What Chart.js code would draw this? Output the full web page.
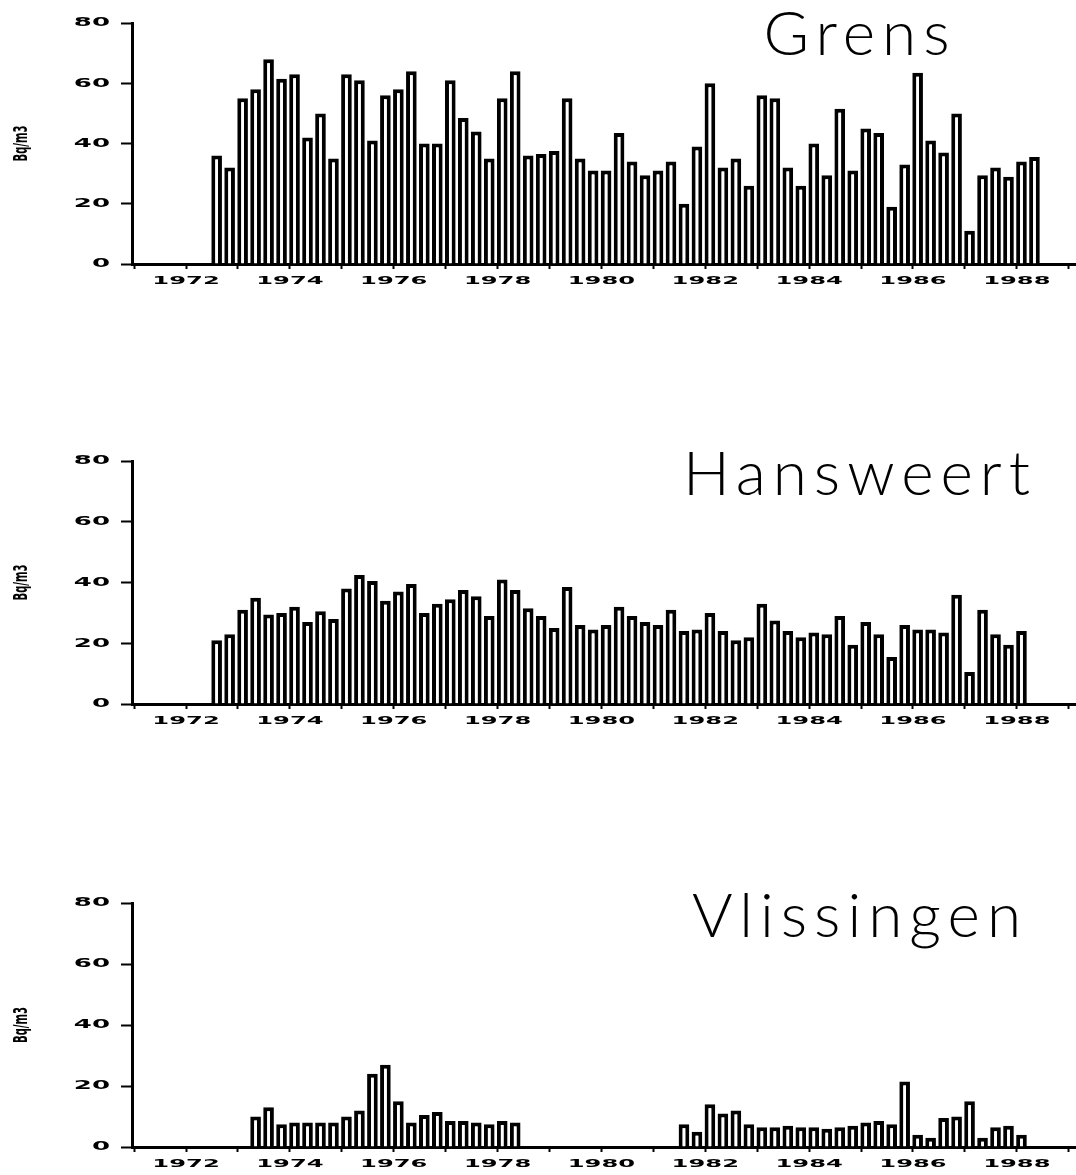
<!DOCTYPE html>
<html>
<head>
<meta charset="utf-8">
<script src="https://cdn.jsdelivr.net/npm/chart.js@4/dist/chart.umd.min.js"></script>
<style>
  html, body { margin: 0; padding: 0; background: #fff; }
  body { width: 1076px; height: 1175px; overflow: hidden; position: relative; }
  .panel { position: absolute; left: 0; width: 1076px; height: 300px; }
</style>
</head>
<body>
<div class="panel" id="p1" style="top:0px"><canvas id="c1" width="1076" height="300"></canvas></div>
<div class="panel" id="p2" style="top:440px"><canvas id="c2" width="1076" height="300"></canvas></div>
<div class="panel" id="p3" style="top:883px"><canvas id="c3" width="1076" height="300"></canvas></div>
<script>
// ---------------- data ----------------
const seriesYears = [1973, 1974, 1975, 1976, 1977, 1978, 1979, 1980,
                     1981, 1982, 1983, 1984, 1985, 1986, 1987, 1988];
const quarterNames = ['Q1', 'Q2', 'Q3', 'Q4'];
const quarters = [];
for (const y of seriesYears) for (const q of quarterNames) quarters.push(y + ' ' + q);

const tickYears = [1972, 1973, 1974, 1975, 1976, 1977, 1978, 1979, 1980,
                   1981, 1982, 1983, 1984, 1985, 1986, 1987, 1988, 1989];
const yearTickLabels = ['1972', '1974', '1976', '1978', '1980', '1982', '1984', '1986', '1988'];
const yTicks = [0, 20, 40, 60, 80];
const unitLabel = 'Bq/m3';

const grens = [
  36, 32, 55, 58, 68, 61.5, 63, 42, 50, 35,
  63, 61, 41, 56, 58, 64, 40, 40, 61, 48.5,
  44, 35, 55, 64, 36, 36.5, 37.5, 55, 35, 31,
  31, 43.5, 34, 29.5, 31, 34, 20, 39, 60, 32,
  35, 26, 56, 55, 32, 26, 40, 29.5, 51.5, 31,
  45, 43.5, 19, 33, 63.5, 41, 37, 50, 11, 29.5,
  32, 29, 34, 35.5
];
const hansweert = [
  21, 23, 31, 35, 29.5, 30, 32, 27, 30.5, 28,
  38, 42.5, 40.5, 34, 37, 39.5, 30, 33, 34.5, 37.5,
  35.5, 29, 41, 37.5, 31.5, 29, 25, 38.5, 26, 24.5,
  26, 32, 29, 27, 26, 31, 24, 24.5, 30, 24,
  21, 22, 33, 27.5, 24, 22, 23.5, 23, 29, 19.5,
  27, 23, 15.5, 26, 24.5, 24.5, 23.5, 36, 10.5, 31,
  23, 19.5, 24, null
];
const vlissingen = [
  null, null, null, 10, 13, 7.5, 8, 8, 8, 8,
  10, 12, 24, 27, 15, 8, 10.5, 11.5, 8.5, 8.5,
  8, 7.5, 8.5, 8, null, null, null, null, null, null,
  null, null, null, null, null, null, 7.5, 5, 14, 11,
  12, 7.5, 6.5, 6.5, 7, 6.5, 6.5, 6, 6.5, 7,
  8, 8.5, 7.5, 21.5, 4, 3, 9.5, 10, 15, 3,
  6.5, 7, 4, null
];
const stations = ['Grens', 'Hansweert', 'Vlissingen'];

// ---------------- layout / style ----------------
const X_MIN = 1971.46, X_MAX = 1989.64;
const BAR_SHIFT = 0.09;           // bar centre offset within the quarter (in years)
const panels = [
  { canvas: 'c1', name: stations[0], values: grens,      padTop: 23, titleY: 55 },
  { canvas: 'c2', name: stations[1], values: hansweert,  padTop: 21, titleY: 55 },
  { canvas: 'c3', name: stations[2], values: vlissingen, padTop: 20, titleY: 54 }
];

function quarterPos(label) {
  const [y, q] = label.split(' ');
  return Number(y) + (Number(q.slice(1)) - 1) / 4 + BAR_SHIFT;
}

// draw a scale's text with a horizontal stretch (old plotter lettering)
function withStretch(ctx, sx, fn) {
  ctx.save();
  const rot = ctx.rotate;
  ctx.rotate = function (a) { rot.call(this, a); this.scale(sx, 1); };
  try { fn(); } finally { ctx.rotate = rot; ctx.restore(); }
}
class StretchLinear extends Chart.LinearScale {
  drawLabels(area) {
    withStretch(this.ctx, this.options.ticks.stretch || 1, () => super.drawLabels(area));
  }
  drawTitle() {
    withStretch(this.ctx, this.options.title.stretch || 1, () => super.drawTitle());
  }
}
StretchLinear.id = 'stretchLinear';
StretchLinear.defaults = Chart.LinearScale.defaults;
Chart.register(StretchLinear);

const stationTitle = {
  id: 'stationTitle',
  afterDraw(chart, args, opts) {
    const ctx = chart.ctx;
    ctx.save();
    ctx.font = opts.font;
    ctx.letterSpacing = opts.letterSpacing;
    ctx.fillStyle = '#000';
    ctx.textAlign = 'center';
    ctx.textBaseline = 'alphabetic';
    ctx.fillText(opts.text, opts.x, opts.y);
    ctx.restore();
  }
};

for (const p of panels) {
  new Chart(document.getElementById(p.canvas), {
    type: 'bar',
    data: {
      datasets: [{
        label: p.name,
        data: quarters.map((q, i) => ({ x: quarterPos(q), y: p.values[i] })),
        backgroundColor: '#ffffff',
        borderColor: '#000000',
        borderWidth: 4,
        borderSkipped: 'start',
        barPercentage: 0.82,
        categoryPercentage: 1.0
      }]
    },
    plugins: [stationTitle],
    options: {
      responsive: false,
      animation: false,
      devicePixelRatio: 1,
      layout: { padding: { top: p.padTop, right: 0, bottom: 0, left: 0 } },
      plugins: {
        legend: { display: false },
        tooltip: { enabled: false },
        title: { display: false },
        stationTitle: {
          text: p.name, x: 860, y: p.titleY,
          font: '300 62px Lato, "DejaVu Sans", sans-serif',
          letterSpacing: '7px'
        }
      },
      scales: {
        x: {
          type: 'stretchLinear',
          min: X_MIN, max: X_MAX,
          offset: false,
          afterBuildTicks: (s) => { s.ticks = tickYears.map(v => ({ value: v })); },
          afterFit: (s) => { s.height = 36; },
          ticks: {
            autoSkip: false, maxRotation: 0, minRotation: 0,
            callback: (v) => yearTickLabels.includes(String(v)) ? String(v) : '',
            color: '#000',
            font: { family: '"DejaVu Sans", sans-serif', size: 11, weight: 'bold' },
            stretch: 2.2,
            labelOffset: 26,
            padding: 6
          },
          grid: {
            display: true, drawOnChartArea: false, drawTicks: true,
            tickLength: 5, tickWidth: 2, tickColor: '#000'
          },
          border: { display: true, color: '#000', width: 3 }
        },
        y: {
          type: 'stretchLinear',
          min: 0, max: 80,
          afterBuildTicks: (s) => { s.ticks = yTicks.map(v => ({ value: v })); },
          afterFit: (s) => { s.width = 132; },
          ticks: {
            color: '#000',
            font: { family: '"DejaVu Sans", sans-serif', size: 13, weight: 'bold' },
            stretch: 2.0,
            padding: 11
          },
          grid: {
            display: true, drawOnChartArea: false, drawTicks: true,
            tickLength: 11, tickWidth: 2, tickColor: '#000'
          },
          border: { display: true, color: '#000', width: 3 },
          title: {
            display: true, text: unitLabel, color: '#000',
            font: { family: '"Liberation Sans Narrow", "DejaVu Sans Condensed", sans-serif', size: 20, weight: 'bold' },
            stretch: 0.56,
            padding: { top: 10, bottom: 0 }
          }
        }
      }
    }
  });
}
</script>
</body>
</html>
